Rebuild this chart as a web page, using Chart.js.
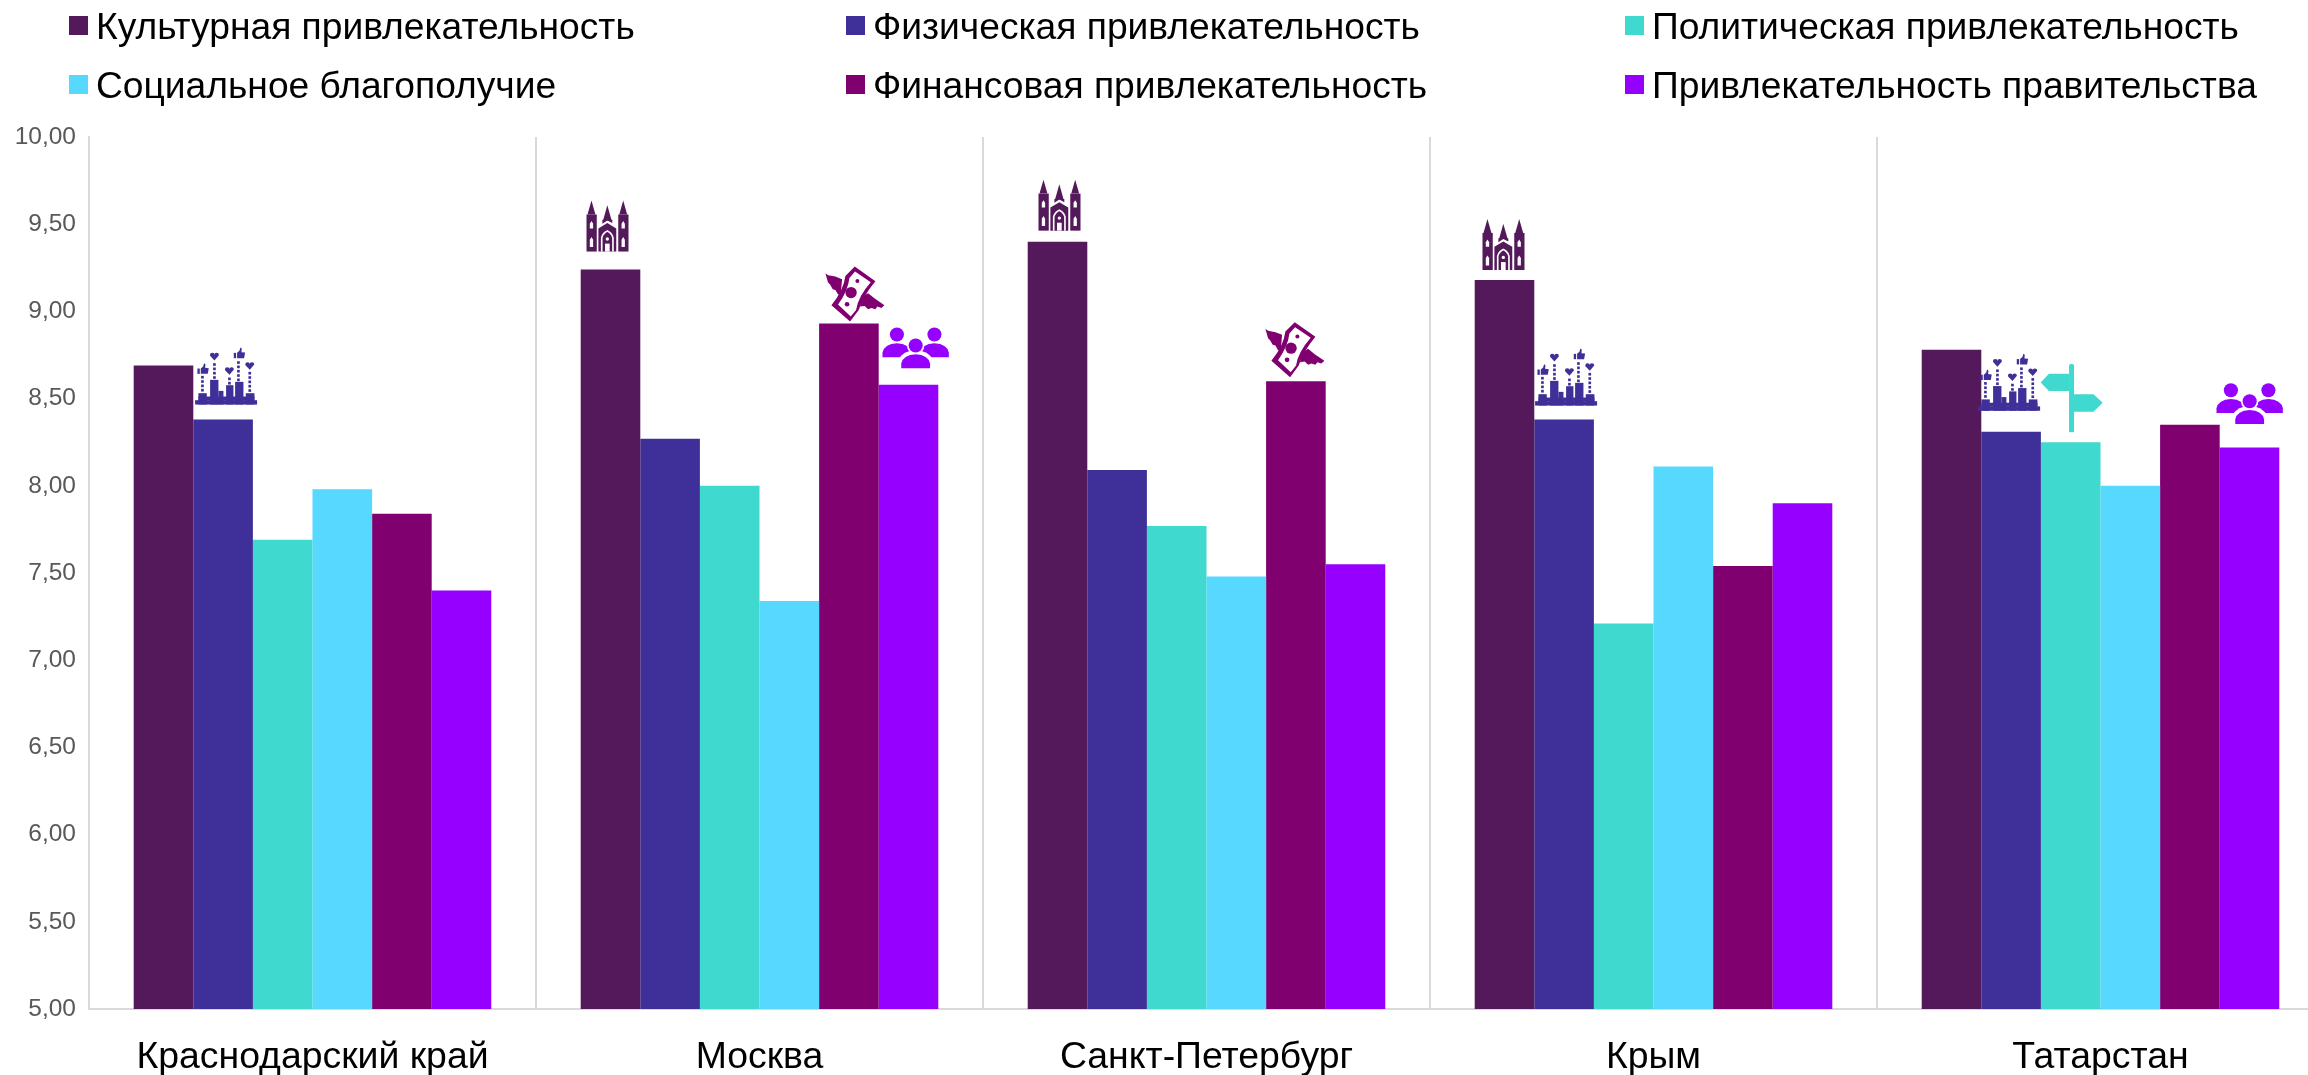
<!DOCTYPE html>
<html lang="ru">
<head>
<meta charset="utf-8">
<title>Привлекательность регионов</title>
<script src="https://cdn.jsdelivr.net/npm/chart.js@4"></script>
<style>
html, body { margin: 0; padding: 0; background: #fff; overflow: hidden; }
#wrap { position: relative; width: 2308px; height: 1075px; overflow: hidden; }
#chart { position: absolute; left: 0; top: 0; }
.legend-item { position: absolute; font: 37.2px "Liberation Sans", Arial, sans-serif; color: #000; white-space: nowrap; line-height: 40px; }
.legend-item i { position: absolute; left: -27px; top: 10px; width: 19px; height: 19px; }
</style>
</head>
<body>
<div id="wrap">
  <canvas id="chart" width="2345" height="1075"></canvas>
  <div id="legend"></div>
</div>
<script>
// данные
var regions = ['Краснодарский край', 'Москва', 'Санкт-Петербург', 'Крым', 'Татарстан'];
var yTicks = [5, 5.5, 6, 6.5, 7, 7.5, 8, 8.5, 9, 9.5, 10];

var seriesNames = [
    'Культурная привлекательность',
    'Физическая привлекательность',
    'Политическая привлекательность',
    'Социальное благополучие',
    'Финансовая привлекательность',
    'Привлекательность правительства'
];
var cultural = [8.69, 9.24, 9.40, 9.18, 8.78];
var physical = [8.38, 8.27, 8.09, 8.38, 8.31];
var political = [7.69, 8.00, 7.77, 7.21, 8.25];
var social = [7.98, 7.34, 7.48, 8.11, 8.00];
var financial = [7.84, 8.93, 8.60, 7.54, 8.35];
var government = [7.40, 8.58, 7.55, 7.90, 8.22];

var colors = ['#54195A', '#3E3098', '#40D9CF', '#57D8FF', '#800070', '#9500FF'];

// значки над столбцами: ряд, регион, вид, сдвиг по x, зазор над столбцом
var badges = [
    [1, 0, 'city', 3, 15],
    [0, 1, 'church', -3, 18],
    [4, 1, 'money', 6, 2],
    [5, 1, 'people', 7, 16],
    [0, 2, 'church', 2, 11],
    [4, 2, 'money', -1, 4],
    [0, 3, 'church', -1, 10],
    [1, 3, 'city', 2, 14],
    [1, 4, 'city', -2, 21],
    [2, 4, 'sign', 1, 10],
    [5, 4, 'people', 0, 23]
];

function heart(ctx, x, y) {
    ctx.beginPath();
    ctx.moveTo(x, y + 12);
    ctx.lineTo(x - 13, y - 2);
    ctx.arc(x - 6.5, y - 4, 7, Math.PI, 0);
    ctx.arc(x + 6.5, y - 4, 7, Math.PI, 0);
    ctx.closePath();
    ctx.fill();
}

function thumb(ctx, x, y) {
    ctx.fillRect(x - 17, y - 4, 7, 16);
    ctx.beginPath();
    ctx.moveTo(x - 7, y - 4);
    ctx.lineTo(x, y - 10);
    ctx.lineTo(x + 3, y - 20);
    ctx.lineTo(x + 7, y - 17);
    ctx.lineTo(x + 6, y - 6);
    ctx.lineTo(x + 17, y - 5);
    ctx.lineTo(x + 14, y + 12);
    ctx.lineTo(x - 7, y + 12);
    ctx.closePath();
    ctx.fill();
}

function poly(ctx, pts) {
    ctx.beginPath();
    ctx.moveTo(pts[0], pts[1]);
    for (var i = 2; i < pts.length; i += 2) {
        ctx.lineTo(pts[i], pts[i + 1]);
    }
    ctx.closePath();
    ctx.fill();
}

// каждый значок рисуется в своей сетке, размер сетки задан в icons
var icons = {
    church: { w: 127, h: 154, px: 42, draw: function(ctx, color) {
        // башни
        ctx.fillRect(0, 42, 31, 112);
        ctx.fillRect(96, 42, 31, 112);
        poly(ctx, [15, 0, 3, 42, 27, 42]);
        poly(ctx, [111, 0, 99, 42, 123, 42]);
        poly(ctx, [63, 14, 50, 60, 76, 60]);
        poly(ctx, [48, 58, 78, 58, 78, 68, 63, 60, 48, 70]);
        // середина с фронтоном
        poly(ctx, [36, 154, 36, 84, 63, 68, 90, 84, 90, 154]);
        ctx.fillStyle = '#fff';
        // окна
        [15, 111].forEach(function(x) {
            poly(ctx, [x, 62, x + 5, 70, x + 5, 84, x - 5, 84, x - 5, 70]);
            poly(ctx, [x, 110, x + 5, 118, x + 5, 140, x - 5, 140, x - 5, 118]);
        });
        // арка входа
        ctx.strokeStyle = '#fff';
        ctx.lineWidth = 5;
        ctx.beginPath();
        ctx.moveTo(46, 154);
        ctx.lineTo(46, 112);
        ctx.quadraticCurveTo(50, 98, 63, 92);
        ctx.quadraticCurveTo(76, 98, 80, 112);
        ctx.lineTo(80, 154);
        ctx.stroke();
        ctx.fillRect(56, 130, 14, 24);
        ctx.beginPath();
        ctx.arc(63, 116, 5, 0, Math.PI * 2);
        ctx.fill();
    }},
    money: { w: 177, h: 165, px: 59, draw: function(ctx, color) {
        // купюра
        ctx.beginPath();
        ctx.moveTo(88, 0);
        ctx.lineTo(150, 44);
        ctx.quadraticCurveTo(112, 90, 100, 130);
        ctx.lineTo(74, 165);
        ctx.lineTo(18, 116);
        ctx.quadraticCurveTo(55, 70, 60, 28);
        ctx.closePath();
        ctx.fill();
        ctx.fillStyle = '#fff';
        ctx.beginPath();
        ctx.moveTo(89, 15);
        ctx.lineTo(136, 47);
        ctx.quadraticCurveTo(98, 90, 92, 130);
        ctx.lineTo(76, 150);
        ctx.lineTo(38, 114);
        ctx.quadraticCurveTo(68, 72, 72, 34);
        ctx.closePath();
        ctx.fill();
        ctx.fillStyle = color;
        [[96, 43, 6], [77, 78, 17], [65, 113, 7]].forEach(function(c) {
            ctx.beginPath();
            ctx.arc(c[0], c[1], c[2], 0, Math.PI * 2);
            ctx.fill();
        });
        // крылья с перьями
        poly(ctx, [0, 20, 8, 26, 30, 30, 50, 38, 46, 84, 38, 84, 30, 70, 22, 68, 14, 54, 8, 48, 4, 34]);
        poly(ctx, [108, 92, 128, 80, 148, 96, 177, 116, 168, 124, 156, 120, 150, 128, 138, 124, 128, 128, 118, 118, 104, 120]);
    }},
    people: { w: 197, h: 124, px: 66, draw: function(ctx, color) {
        function person(x, y) {
            ctx.beginPath();
            ctx.arc(x, y, 21, 0, Math.PI * 2);
            ctx.fill();
            ctx.beginPath();
            ctx.moveTo(x - 43, y + 68);
            ctx.lineTo(x - 43, y + 54);
            ctx.quadraticCurveTo(x - 38, y + 28, x, y + 26);
            ctx.quadraticCurveTo(x + 38, y + 28, x + 43, y + 54);
            ctx.lineTo(x + 43, y + 68);
            ctx.closePath();
            ctx.fill();
        }
        person(43, 22);
        person(155, 22);
        // белый контур отделяет среднюю фигуру
        ctx.fillStyle = '#fff';
        ctx.beginPath();
        ctx.moveTo(48, 124);
        ctx.lineTo(48, 98);
        ctx.quadraticCurveTo(60, 70, 99, 70);
        ctx.quadraticCurveTo(138, 70, 150, 98);
        ctx.lineTo(150, 124);
        ctx.closePath();
        ctx.fill();
        ctx.beginPath();
        ctx.arc(99, 55, 26, 0, Math.PI * 2);
        ctx.fill();
        ctx.fillStyle = color;
        person(99, 55);
    }},
    city: { w: 186, h: 166, px: 62, draw: function(ctx, color) {
        // кварталы
        ctx.fillRect(0, 153, 186, 13);
        [[10, 132, 25], [45, 92, 25], [70, 125, 15], [93, 108, 22], [120, 98, 25], [152, 132, 26]].forEach(function(b) {
            ctx.fillRect(b[0], b[1], b[2], 166 - b[1]);
        });
        ctx.fillRect(10, 142, 168, 12);
        // пунктирные линии вверх от зданий
        [[22, 80, 128], [58, 42, 88], [103, 85, 105], [130, 36, 94], [164, 68, 128]].forEach(function(d) {
            for (var y = d[1]; y < d[2]; y += 13) {
                ctx.fillRect(d[0] - 4, y, 8, 8);
            }
        });
        heart(ctx, 58, 22);
        heart(ctx, 103, 65);
        heart(ctx, 164, 50);
        thumb(ctx, 24, 62);
        thumb(ctx, 133, 15);
    }},
    sign: { w: 188, h: 207, px: 62, draw: function(ctx, color) {
        ctx.fillRect(86, 6, 15, 201);
        ctx.beginPath();
        ctx.arc(93.5, 7, 7.5, 0, Math.PI * 2);
        ctx.fill();
        poly(ctx, [0, 56, 25, 30, 86, 30, 86, 82, 25, 82]);
        poly(ctx, [101, 92, 160, 92, 188, 118, 160, 145, 101, 145]);
    }}
};

// рисует значки над нужными столбцами
var badgePlugin = {
    id: 'badgePlugin',
    afterDatasetsDraw: function(chart) {
        var ctx = chart.ctx;
        badges.forEach(function(b) {
            var bar = chart.getDatasetMeta(b[0]).data[b[1]];
            var icon = icons[b[2]];
            var k = icon.px / icon.w;
            var color = colors[b[0]];
            ctx.save();
            ctx.translate(bar.x + b[3] - icon.px / 2, bar.y - b[4] - icon.h * k);
            ctx.scale(k, k);
            ctx.fillStyle = color;
            icon.draw(ctx, color);
            ctx.restore();
        });
    }
};

var allValues = [cultural, physical, political, social, financial, government];
var datasets = seriesNames.map(function(name, i) {
    return {
        label: name,
        data: allValues[i],
        backgroundColor: colors[i],
        borderWidth: 0,
        categoryPercentage: 0.8,
        barPercentage: 1
    };
});

const ctx = document.getElementById('chart').getContext('2d');
const myChart = new Chart(ctx, {
    type: 'bar',
    data: {
        labels: regions,
        datasets: datasets
    },
    plugins: [badgePlugin],
    options: {
        responsive: false,
        animation: false,
        layout: { padding: { top: 137, right: 21, left: 0, bottom: 0 } },
        plugins: {
            legend: { display: false },
            tooltip: { enabled: false }
        },
        scales: {
            x: {
                afterFit: function(scale) { scale.height = 66; },
                border: { color: '#D9D9D9', width: 2 },
                grid: { color: '#D9D9D9', lineWidth: 2, drawTicks: false },
                ticks: {
                    color: '#000',
                    padding: 26,
                    maxRotation: 0,
                    font: { family: '"Liberation Sans", Arial, sans-serif', size: 37.4 }
                }
            },
            y: {
                min: 5,
                max: 10,
                afterFit: function(scale) { scale.width = 89; },
                afterBuildTicks: function(scale) {
                    scale.ticks = yTicks.map(function(v) { return { value: v }; });
                },
                border: { color: '#D9D9D9', width: 2 },
                grid: { display: false, drawTicks: false },
                ticks: {
                    color: '#595959',
                    padding: 13,
                    callback: function(v) { return v.toFixed(2).replace('.', ','); },
                    font: { family: '"Liberation Sans", Arial, sans-serif', size: 24.5 }
                }
            }
        }
    }
});

// легенда в три колонки
var legendX = [96, 873, 1652];
var legendY = [6, 65];
var legend = document.getElementById('legend');
myChart.data.datasets.forEach(function(ds, i) {
    var item = document.createElement('div');
    item.className = 'legend-item';
    item.style.left = legendX[i % 3] + 'px';
    item.style.top = legendY[Math.floor(i / 3)] + 'px';
    item.innerHTML = '<i style="background:' + ds.backgroundColor + '"></i>' + ds.label;
    legend.appendChild(item);
});
</script>
</body>
</html>
